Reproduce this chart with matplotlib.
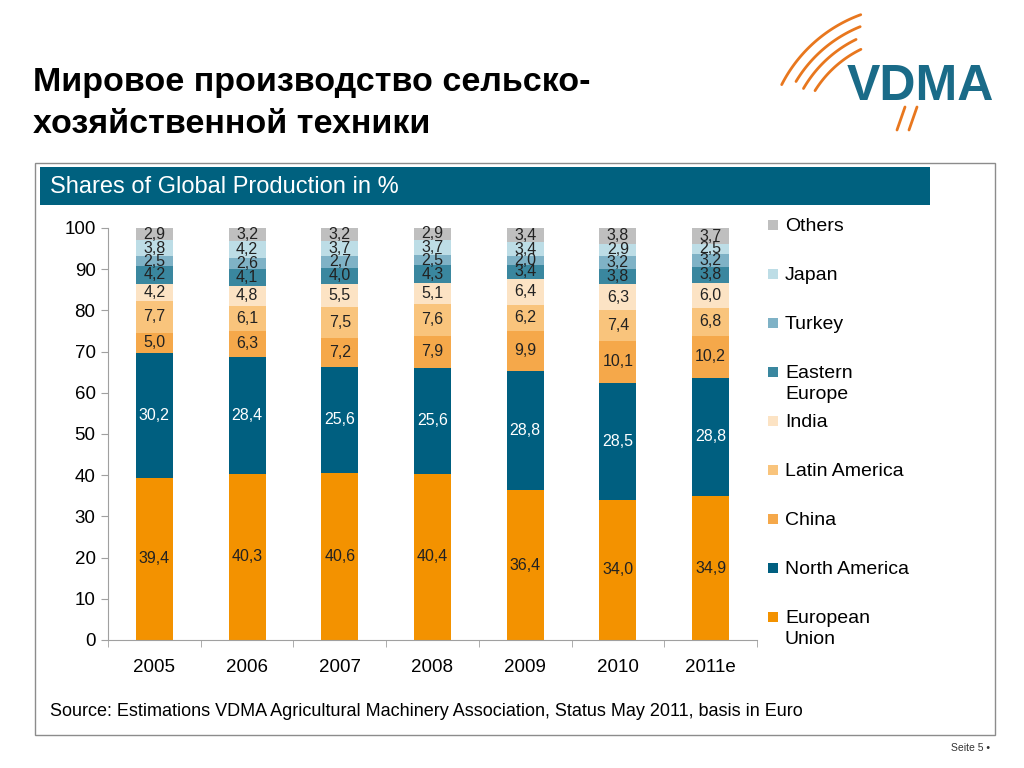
import numpy as np
import matplotlib
matplotlib.use("Agg")
import matplotlib.pyplot as plt
from matplotlib.patches import Rectangle

plt.rcParams['font.family'] = ['Liberation Sans', 'DejaVu Sans']

years = ["2005", "2006", "2007", "2008", "2009", "2010", "2011e"]
series_names = ["European\nUnion", "North America", "China", "Latin America", "India",
                "Eastern\nEurope", "Turkey", "Japan", "Others"]
european_union = [39.4, 40.3, 40.6, 40.4, 36.4, 34.0, 34.9]
north_america = [30.2, 28.4, 25.6, 25.6, 28.8, 28.5, 28.8]
china = [5.0, 6.3, 7.2, 7.9, 9.9, 10.1, 10.2]
latin_america = [7.7, 6.1, 7.5, 7.6, 6.2, 7.4, 6.8]
india = [4.2, 4.8, 5.5, 5.1, 6.4, 6.3, 6.0]
eastern_europe = [4.2, 4.1, 4.0, 4.3, 3.4, 3.8, 3.8]
turkey = [2.5, 2.6, 2.7, 2.5, 2.0, 3.2, 3.2]
japan = [3.8, 4.2, 3.7, 3.7, 3.4, 2.9, 2.5]
others = [2.9, 3.2, 3.2, 2.9, 3.4, 3.8, 3.7]
series_values = [european_union, north_america, china, latin_america, india,
                 eastern_europe, turkey, japan, others]
colors = ["#F39200", "#005F80", "#F5A84A", "#F9C47C", "#FCE3C4",
          "#3A879F", "#7FB2C6", "#BDDDE6", "#BFBFBF"]
label_colors = ["#222222", "white", "#222222", "#222222", "#222222",
                "#222222", "#222222", "#222222", "#222222"]
y_ticks = [0, 10, 20, 30, 40, 50, 60, 70, 80, 90, 100]

W, H = 1024, 768
fig = plt.figure(figsize=(W / 100, H / 100), dpi=100)

# overlay for decorations (pixel coordinates)
ov = fig.add_axes([0, 0, 1, 1])
ov.set_xlim(0, W)
ov.set_ylim(H, 0)
ov.axis("off")

# outer box and header bar
ov.add_patch(Rectangle((35, 163), 960, 572, fill=False, edgecolor="#8C8C8C", lw=1.0))
ov.add_patch(Rectangle((40, 167), 890, 38, facecolor="#00617F", edgecolor="none"))
ov.text(50, 187, "Shares of Global Production in %", color="white", fontsize=17,
        va="center", ha="left")

# title
ov.text(33, 91, "Мировое производство сельско-", fontsize=24.5, fontweight="bold",
        va="baseline", ha="left", color="black")
ov.text(33, 133, "хозяйственной техники", fontsize=24.5, fontweight="bold",
        va="baseline", ha="left", color="black")

# source and page footer
ov.text(50, 712, "Source: Estimations VDMA Agricultural Machinery Association, Status May 2011, basis in Euro",
        fontsize=13, va="center", ha="left", color="black")
ov.text(990, 748, "Seite 5 •", fontsize=7.5, va="center", ha="right", color="#333333")

# logo
ov.text(847, 100, "VDMA", fontsize=36, fontweight="bold", color="#1A6B88",
        va="baseline", ha="left")
cx, cy = 910, 150
for r, a0, a1 in [(144, 110, 153), (133, 112, 149), (123, 116, 150), (112, 116, 148)]:
    t = np.radians(np.linspace(a0, a1, 60))
    ov.plot(cx + r * np.cos(t), cy - r * np.sin(t), color="#E8771E", lw=2.0,
            solid_capstyle="round")
for x0 in (905, 917):
    ov.plot([x0, x0 - 8], [107, 130], color="#E8771E", lw=2.0, solid_capstyle="round")

# chart axes
left, right, top, bottom = 108, 757, 228, 640
ax = fig.add_axes([left / W, 1 - bottom / H, (right - left) / W, (bottom - top) / H])
ax.set_facecolor("none")
x = np.arange(len(years))
bottoms = np.zeros(len(years))
for vals, c, lc in zip(series_values, colors, label_colors):
    vals = np.array(vals)
    ax.bar(x, vals, width=0.4, bottom=bottoms, color=c, edgecolor="none")
    for xi, b, v in zip(x, bottoms, vals):
        ax.text(xi, b + v / 2, f"{v:.1f}".replace(".", ","), ha="center", va="center",
                fontsize=11.5, color=lc)
    bottoms += vals

ax.set_xlim(-0.5, len(years) - 0.5)
ax.set_ylim(0, 100)
ax.set_yticks(y_ticks)
ax.set_yticklabels([str(t) for t in y_ticks], fontsize=13.5)
ax.set_xticks(x)
ax.set_xticklabels(years, fontsize=13.5)
ax.set_xticks(np.arange(-0.5, len(years)), minor=True)
ax.tick_params(axis="x", which="major", length=0, pad=14)
ax.tick_params(axis="x", which="minor", length=5, color="#A0A0A0", direction="out")
ax.tick_params(axis="y", length=5, color="#A0A0A0", direction="out", pad=4)
for s in ["top", "right"]:
    ax.spines[s].set_visible(False)
for s in ["left", "bottom"]:
    ax.spines[s].set_color("#A0A0A0")
    ax.spines[s].set_linewidth(0.8)

# legend (manual)
for i, (name, c) in enumerate(zip(series_names[::-1], colors[::-1])):
    yy = 225 + i * 49
    ov.add_patch(Rectangle((768, yy - 5), 10, 10, facecolor=c, edgecolor="none"))
    ov.text(785, yy - 7, name, fontsize=14, va="top", ha="left", color="black",
            linespacing=1.3)

fig.savefig("out.png", dpi=100)
